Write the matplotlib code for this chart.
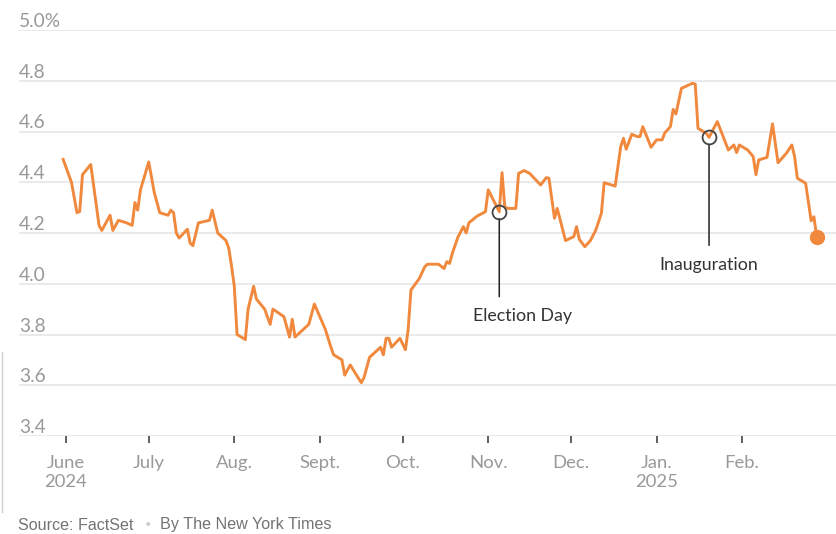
import numpy as np
import pandas as pd
import matplotlib
matplotlib.use('Agg')
import matplotlib.pyplot as plt
import matplotlib.dates as mdates
from matplotlib.lines import Line2D

# --- DATOS ---
fechas = [
    '2024-05-31', '2024-06-03', '2024-06-05', '2024-06-06', '2024-06-07', '2024-06-10',
    '2024-06-13', '2024-06-14', '2024-06-17', '2024-06-18', '2024-06-20', '2024-06-23',
    '2024-06-25', '2024-06-26', '2024-06-27', '2024-06-28', '2024-07-01', '2024-07-03',
    '2024-07-05', '2024-07-08', '2024-07-09', '2024-07-10', '2024-07-11', '2024-07-12',
    '2024-07-15', '2024-07-16', '2024-07-17', '2024-07-19', '2024-07-23', '2024-07-24',
    '2024-07-26', '2024-07-29', '2024-07-30', '2024-07-31', '2024-08-01', '2024-08-02',
    '2024-08-05', '2024-08-06', '2024-08-08', '2024-08-09', '2024-08-12', '2024-08-14',
    '2024-08-15', '2024-08-19', '2024-08-21', '2024-08-22', '2024-08-23', '2024-08-28',
    '2024-08-30', '2024-09-03', '2024-09-05', '2024-09-06', '2024-09-09', '2024-09-10',
    '2024-09-12', '2024-09-16', '2024-09-17', '2024-09-19', '2024-09-20', '2024-09-23',
    '2024-09-24', '2024-09-25', '2024-09-26', '2024-09-27', '2024-09-30', '2024-10-02',
    '2024-10-03', '2024-10-04', '2024-10-07', '2024-10-09', '2024-10-10', '2024-10-14',
    '2024-10-16', '2024-10-17', '2024-10-18', '2024-10-19', '2024-10-21', '2024-10-23',
    '2024-10-24', '2024-10-25', '2024-10-28', '2024-10-30', '2024-10-31', '2024-11-01',
    '2024-11-05', '2024-11-06', '2024-11-07', '2024-11-08', '2024-11-11', '2024-11-12',
    '2024-11-14', '2024-11-16', '2024-11-18', '2024-11-20', '2024-11-22', '2024-11-23',
    '2024-11-25', '2024-11-26', '2024-11-29', '2024-12-02', '2024-12-03', '2024-12-04',
    '2024-12-06', '2024-12-08', '2024-12-10', '2024-12-12', '2024-12-13', '2024-12-17',
    '2024-12-19', '2024-12-20', '2024-12-21', '2024-12-23', '2024-12-25', '2024-12-26',
    '2024-12-27', '2024-12-30', '2025-01-01', '2025-01-03', '2025-01-04', '2025-01-06',
    '2025-01-07', '2025-01-08', '2025-01-10', '2025-01-13', '2025-01-14', '2025-01-15',
    '2025-01-16', '2025-01-17', '2025-01-19', '2025-01-20', '2025-01-23', '2025-01-27',
    '2025-01-29', '2025-01-30', '2025-01-31', '2025-02-03', '2025-02-05', '2025-02-06',
    '2025-02-07', '2025-02-10', '2025-02-12', '2025-02-14', '2025-02-17', '2025-02-19',
    '2025-02-20', '2025-02-21', '2025-02-24', '2025-02-26', '2025-02-27', '2025-02-28',
]
rendimiento = [
    4.49, 4.40, 4.28, 4.285, 4.43, 4.47,
    4.23, 4.21, 4.27, 4.21, 4.25, 4.24,
    4.23, 4.32, 4.29, 4.37, 4.48, 4.36,
    4.28, 4.27, 4.29, 4.28, 4.20, 4.18,
    4.215, 4.16, 4.15, 4.24, 4.25, 4.29,
    4.20, 4.17, 4.14, 4.07, 3.99, 3.80,
    3.78, 3.90, 3.99, 3.94, 3.90, 3.84,
    3.90, 3.87, 3.79, 3.86, 3.79, 3.84,
    3.92, 3.82, 3.75, 3.72, 3.70, 3.64,
    3.68, 3.61, 3.63, 3.71, 3.72, 3.75,
    3.72, 3.785, 3.785, 3.75, 3.785, 3.74,
    3.82, 3.975, 4.02, 4.067, 4.077, 4.077,
    4.06, 4.087, 4.08, 4.12, 4.183, 4.225,
    4.20, 4.24, 4.267, 4.278, 4.284, 4.37,
    4.284, 4.438, 4.304, 4.297, 4.297, 4.435,
    4.446, 4.435, 4.412, 4.389, 4.418, 4.416,
    4.258, 4.297, 4.17, 4.186, 4.225, 4.175,
    4.146, 4.17, 4.212, 4.278, 4.398, 4.385,
    4.54, 4.573, 4.53, 4.589, 4.58, 4.58,
    4.619, 4.538, 4.567, 4.567, 4.595, 4.619,
    4.687, 4.669, 4.77, 4.785, 4.79, 4.787,
    4.613, 4.606, 4.593, 4.577, 4.639, 4.527,
    4.547, 4.517, 4.547, 4.527, 4.501, 4.43,
    4.488, 4.498, 4.63, 4.477, 4.514, 4.547,
    4.501, 4.416, 4.396, 4.248, 4.264, 4.186,
]

meses = ['2024-06-01', '2024-07-01', '2024-08-01', '2024-09-01', '2024-10-01',
         '2024-11-01', '2024-12-01', '2025-01-01', '2025-02-01']
etiquetas_meses = ['June\n2024', 'July', 'Aug.', 'Sept.', 'Oct.', 'Nov.', 'Dec.',
                   'Jan.\n2025', 'Feb.']
niveles_y = [3.4, 3.6, 3.8, 4.0, 4.2, 4.4, 4.6, 4.8, 5.0]
etiquetas_y = ['3.4', '3.6', '3.8', '4.0', '4.2', '4.4', '4.6', '4.8', '5.0%']

eventos = ['2024-11-05', '2025-01-20']
nombres_eventos = ['Election Day', 'Inauguration']

NARANJA = '#F0893D'
plt.rcParams['font.family'] = ['Lato', 'DejaVu Sans']

serie = pd.Series(rendimiento, index=pd.to_datetime(fechas))

fig = plt.figure(figsize=(8.36, 5.34), dpi=100)
ax = fig.add_axes([19 / 836, 1 - 436 / 534, 1 - 19 / 836, (436 - 30) / 534])

ax.set_ylim(3.4, 5.0)
ax.set_xlim(pd.Timestamp('2024-05-15'), pd.Timestamp('2025-03-07'))

# grilla horizontal + etiquetas encima de cada linea
for nivel, txt in zip(niveles_y, etiquetas_y):
    ax.axhline(nivel, color='#e4e4e4', lw=1.1, zorder=0)
    ax.text(0, nivel, txt, transform=ax.get_yaxis_transform(), ha='left', va='bottom',
            fontsize=13.8, color='#999999', clip_on=False)
ax.set_yticks([])

for lado in ['top', 'right', 'left', 'bottom']:
    ax.spines[lado].set_visible(False)

# eje x
ax.set_xticks(pd.to_datetime(meses))
ax.set_xticklabels(etiquetas_meses, fontsize=13.3, color='#999999', linespacing=1.2)
ax.tick_params(axis='x', direction='out', length=5, width=1.1, color='#333333', pad=9)
for lbl in ax.get_xticklabels():
    lbl.set_verticalalignment('top')

# linea principal
ax.plot(serie.index, serie.values, color=NARANJA, lw=2.1, zorder=3,
        solid_joinstyle='round')
ax.plot(serie.index[-1], serie.values[-1], 'o', color=NARANJA, ms=10, zorder=4)

# anotaciones
desplaz_texto = {'Election Day': (17, -75), 'Inauguration': (0, -92)}
largo_linea = {'Election Day': 85, 'Inauguration': 108}
for fecha, nombre in zip(eventos, nombres_eventos):
    f = pd.Timestamp(fecha)
    v = serie.loc[f]
    ax.plot(f, v, 'o', ms=10, mfc='none', mec='#444444', mew=1.3, zorder=5)
    ax.annotate('', xy=(f, v), xytext=(0, -largo_linea[nombre] * 0.72),
                textcoords='offset points',
                arrowprops=dict(arrowstyle='-', color='#222222', lw=1.1,
                                shrinkA=0, shrinkB=5))
    dx, dy = desplaz_texto[nombre]
    ax.annotate(nombre, xy=(f, v), xytext=(dx, dy), textcoords='offset points',
                ha='center', va='center', fontsize=12.8, color='#333333')

# fuente
fuente_pie = ['Liberation Sans', 'DejaVu Sans']
fig.text(18 / 836, 1 - 525 / 534, 'Source: FactSet', fontsize=11.6, color='#737373',
         ha='left', va='center', family=fuente_pie)
fig.text(148 / 836, 1 - 525 / 534, '\u2022', fontsize=8, color='#cccccc',
         ha='center', va='center')
fig.text(160 / 836, 1 - 525 / 534, 'By The New York Times', fontsize=11.6,
         color='#737373', ha='left', va='center', family=fuente_pie)

# restos del borde izquierdo
fig.add_artist(Line2D([1.5 / 836, 1.5 / 836], [1 - 352 / 534, 1 - 512 / 534],
                      color='#d0d0d0', lw=1))

fig.savefig('out.png', dpi=100)
